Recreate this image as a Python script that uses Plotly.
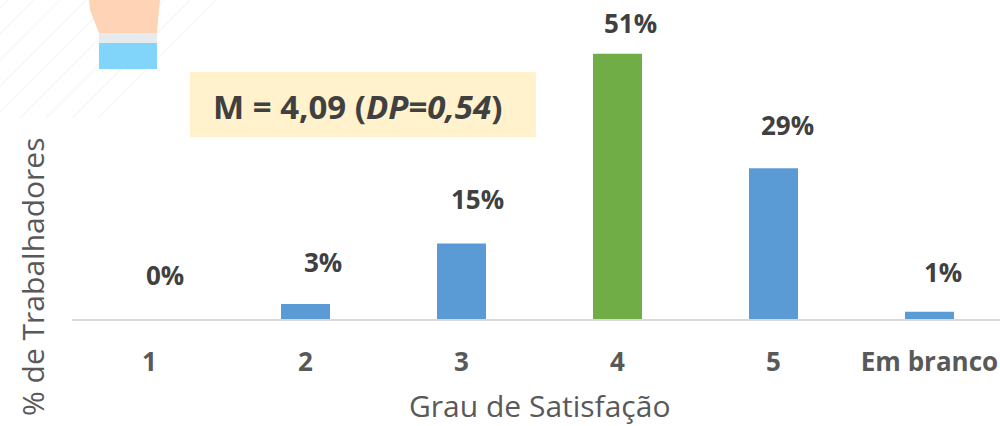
import plotly.graph_objects as go

categories = ["1", "2", "3", "4", "5", "Em branco"]
values = [0, 2.9, 14.5, 51, 29, 1.4]
labels = ["0%", "3%", "15%", "51%", "29%", "1%"]
bar_colors = ["#5B9BD5", "#5B9BD5", "#5B9BD5", "#70AD47", "#5B9BD5", "#5B9BD5"]
label_y = [8.4, 11.0, 23.0, 56.9, 37.4, 9.0]
label_dx = [15, 17, 16, 13, 14, 14]

W, H = 1000, 426
L, B = 72, 107
PW, PH = W - L, H - B


def px(x):
    return (x - L) / PW


def py(y):
    return 1 - y / PH


def poly(points, fill):
    path = "M " + " L ".join(f"{px(x)},{py(y)}" for x, y in points) + " Z"
    return dict(type="path", xref="paper", yref="paper", path=path,
                fillcolor=fill, line=dict(width=0), layer="below")


shapes = []
for x0 in range(-110, 120, 26):
    shapes.append(dict(type="line", xref="paper", yref="paper", layer="below",
                       x0=px(x0), y0=py(118), x1=px(x0 + 118), y1=py(0),
                       line=dict(color="#F9F9F9", width=2)))
shapes += [
    poly([(89, 0), (90, 10), (99, 33), (157, 33), (159, 10), (160, 0)], "#FFD3B6"),
    poly([(99, 33), (157, 33), (157, 43), (99, 43)], "#E8EBEE"),
    poly([(99, 43), (157, 43), (157, 69), (99, 69)], "#81D4FA"),
    poly([(190, 72), (536, 72), (536, 137), (190, 137)], "#FFF2CC"),
]

fig = go.Figure(go.Bar(x=list(range(6)), y=values, marker=dict(color=bar_colors, line=dict(width=0)),
                       width=49 / 156, hoverinfo="skip"))

annotations = [
    dict(x=i, y=label_y[i], xref="x", yref="y", text=f"<b>{labels[i]}</b>", showarrow=False,
         xshift=label_dx[i], xanchor="center", yanchor="middle",
         font=dict(family="Open Sans", size=26, color="#404040"))
    for i in range(6)
]
annotations += [
    dict(x=px(357), y=py(107), xref="paper", yref="paper", showarrow=False,
         xanchor="center", yanchor="middle",
         text="<b>M = 4,09 (<i>DP=0,54</i>)</b>",
         font=dict(family="Open Sans", size=33, color="#404040")),
    dict(x=px(32), y=py(277), xref="paper", yref="paper", showarrow=False, textangle=-90,
         xanchor="center", yanchor="middle",
         text="% de Trabalhadores", font=dict(family="Open Sans", size=30, color="#595959")),
    dict(x=px(539), y=py(405), xref="paper", yref="paper", showarrow=False,
         xanchor="center", yanchor="middle",
         text="Grau de Satisfação", font=dict(family="Open Sans", size=30, color="#595959")),
]

fig.update_layout(
    width=W, height=H,
    margin=dict(l=L, r=0, t=0, b=B),
    paper_bgcolor="white", plot_bgcolor="rgba(0,0,0,0)",
    showlegend=False,
    shapes=shapes,
    annotations=annotations,
    xaxis=dict(
        range=[-0.497, 5.452], tickmode="array", tickvals=list(range(6)),
        ticktext=[f"<b>{c}</b>" for c in categories],
        tickfont=dict(family="Open Sans", size=26, color="#595959"),
        showgrid=False, zeroline=False, showline=True, linecolor="#D9D9D9", linewidth=2,
        ticks="outside", ticklen=19, tickcolor="rgba(0,0,0,0)",
    ),
    yaxis=dict(range=[0, 61.35], visible=False),
)

fig.write_html("out.html", config=dict(displayModeBar=False),
               post_script="document.body.style.margin='0';document.documentElement.style.overflow='hidden';window.dispatchEvent(new Event('resize'));")
